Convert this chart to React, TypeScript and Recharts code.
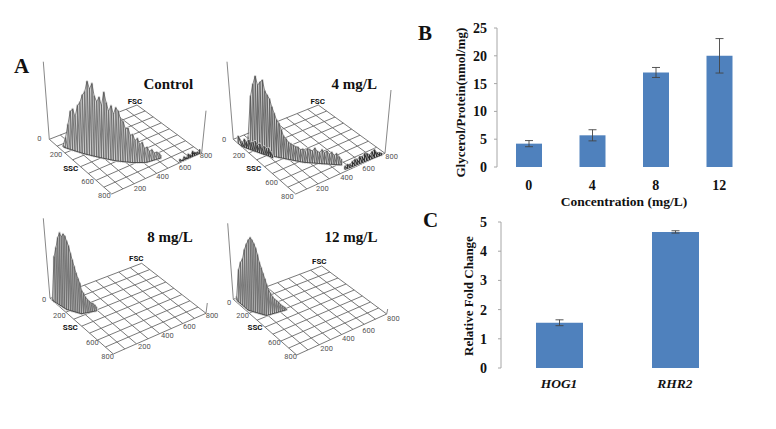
import { Bar, BarChart, ComposedChart, ErrorBar, Line, ReferenceDot, XAxis, YAxis } from "recharts";

const SERIF = "'Liberation Serif', serif";
const SANS = "Roboto, sans-serif";
const BAR_BLUE = "#4f81bd";
const AXIS_GREY = "#a6a6a6";

// panel B
const concentrations = ["0", "4", "8", "12"];
const glycerol = [4.2, 5.7, 17, 20];
const glycerolErr = [0.55, 1, 0.9, 3.1];

// panel C
const genes = ["HOG1", "RHR2"];
const foldChange = [1.55, 4.66];
const foldChangeErr = [0.1, 0.04];

// panel A, grid divisions of both scatter axes
const gridTicks = [0, 100, 200, 300, 400, 500, 600, 700, 800];

// Control
const controlSsc = [133, 150, 168, 185, 203, 221, 238, 256, 273, 290, 306, 322, 338, 354, 370, 385, 401, 416, 431, 446, 462, 477, 492, 506, 519, 532, 545, 558, 571, 584, 594, 605, 615, 626, 636, 645, 648, 652, 655, 659, 662, 665];
const controlFsc = [32, 41, 50, 59, 68, 77, 87, 96, 105, 115, 125, 136, 146, 156, 167, 177, 188, 198, 209, 220, 231, 241, 252, 264, 277, 289, 301, 314, 326, 338, 352, 366, 380, 394, 408, 424, 443, 462, 481, 500, 519, 532];
const controlCount = [2, 10, 24, 38, 41, 34, 46, 50, 58, 62, 73, 66, 72, 60, 55, 60, 52, 66, 56, 48, 54, 46, 53, 50, 42, 40, 33, 34, 27, 28, 22, 24, 18, 20, 14, 15, 10, 11, 7, 7, 5, 3];
const controlEdgeSsc = [788, 790, 791, 792, 793, 794, 795, 796, 797, 798];
const controlEdgeFsc = [614, 632, 650, 668, 686, 704, 722, 740, 760, 784];
const controlEdgeCount = [2, 0, 3, 1, 4, 2, 5, 3, 2, 4];

// 4 mg/L
const mg4Ssc = [130, 150, 169, 189, 209, 228, 248, 268, 287, 307, 325, 340, 355, 370, 385, 400, 415, 430, 445, 460, 475, 490, 505, 520, 533, 545, 558, 570, 582, 595, 607, 620, 632, 644, 657, 669, 681, 694, 706, 719];
const mg4Fsc = [43, 51, 59, 66, 74, 82, 90, 98, 105, 113, 121, 132, 143, 154, 165, 176, 187, 198, 209, 220, 231, 242, 253, 264, 276, 289, 302, 315, 328, 340, 353, 366, 379, 392, 405, 418, 431, 443, 456, 469];
const mg4Count = [9, 51, 64, 73, 65, 69, 72, 62, 59, 56, 49, 43, 37, 34, 28, 22, 20, 17, 16, 15, 14, 14, 12, 13, 11, 14, 13, 12, 15, 12, 11, 14, 11, 13, 10, 12, 9, 11, 8, 6];
const mg4LowSsc = [60, 108, 125, 142, 159, 176, 193, 210, 227, 244, 261, 278, 295, 312, 330, 347];
const mg4LowFsc = [2, 4, 12, 20, 28, 36, 44, 52, 60, 68, 76, 84, 92, 100, 106, 113];
const mg4LowCount = [7, 4, 8, 6, 9, 7, 8, 10, 7, 9, 6, 8, 7, 8, 5, 3];
const mg4EdgeSsc = [779, 781, 783, 785, 786, 787, 788, 790, 791, 792, 794, 795, 796, 798, 800, 802];
const mg4EdgeFsc = [456, 477, 498, 519, 540, 561, 582, 603, 624, 645, 666, 687, 708, 729, 750, 769];
const mg4EdgeCount = [3, 4, 3, 5, 6, 5, 7, 6, 8, 7, 5, 7, 8, 4, 3, 2];

// 8 mg/L
const mg8Ssc = [30, 48, 66, 84, 102, 120, 138, 156, 175, 188, 201, 214, 226, 239, 252, 265, 277, 281, 285, 289, 293, 297, 300, 304, 308];
const mg8Fsc = [0, 3, 6, 9, 12, 15, 18, 21, 24, 31, 39, 46, 54, 61, 69, 76, 84, 98, 111, 125, 138, 152, 165, 179, 192];
const mg8Count = [2, 45, 55, 66, 72, 69, 73, 72, 68, 64, 57, 51, 45, 39, 34, 30, 23, 20, 16, 13, 11, 9, 8, 6, 4];

// 12 mg/L
const mg12Ssc = [21, 45, 69, 93, 117, 141, 166, 179, 191, 204, 217, 229, 242, 254, 267, 280, 292, 294, 297, 299, 301, 304, 306, 308, 311, 313, 315];
const mg12Fsc = [15, 15, 15, 16, 16, 16, 16, 24, 31, 39, 46, 54, 61, 69, 76, 84, 91, 107, 123, 140, 156, 172, 188, 204, 220, 237, 253];
const mg12Count = [3, 32, 41, 46, 57, 64, 70, 73, 71, 68, 64, 58, 51, 46, 41, 36, 31, 25, 21, 17, 14, 12, 10, 7, 5, 3, 1];

const panels = [
  {
    name: "Control",
    frame: { left: 0, top: 45, width: 222, height: 160 },
    corners: { origin: [49.3, 139.3], ssc: [111.7, 194], fsc: [201.7, 152.7], far: [137, 105] },
    axisTips: [[43.3, 61.7], [206, 110.7]],
    surfaces: [
      { ssc: controlSsc, fsc: controlFsc, count: controlCount, stroke: "#666", width: 0.8 },
      { ssc: controlEdgeSsc, fsc: controlEdgeFsc, count: controlEdgeCount, stroke: "#222", width: 1 },
    ],
    labels: {
      zero: [39.3, 138.7], s200: [56, 154.3], ssc: [70.7, 167.7], s600: [87.7, 181.3], s800: [104.3, 195.3],
      f200: [140, 188.3], f400: [162.7, 176.7], f600: [185, 167.3], f800: [206, 155.3], fsc: [135, 100.7], title: [168.3, 83.3],
    },
  },
  {
    name: "4 mg/L",
    frame: { left: 205, top: 45, width: 215, height: 160 },
    corners: { origin: [233.3, 139.3], ssc: [295.7, 194], fsc: [385, 153.3], far: [318.3, 105] },
    axisTips: [[227, 61.7], [391, 90]],
    surfaces: [
      { ssc: mg4Ssc, fsc: mg4Fsc, count: mg4Count, stroke: "#555", width: 0.8 },
      { ssc: mg4LowSsc, fsc: mg4LowFsc, count: mg4LowCount, stroke: "#333", width: 0.9 },
      { ssc: mg4EdgeSsc, fsc: mg4EdgeFsc, count: mg4EdgeCount, stroke: "#222", width: 1 },
    ],
    labels: {
      zero: [224, 139], s200: [239, 155.3], ssc: [253.7, 167.7], s600: [271.7, 182], s800: [287.3, 196.7],
      f200: [322.3, 188.7], f400: [346.7, 177.7], f600: [368.7, 168.7], f800: [391.7, 156.3], fsc: [317.7, 100.7], title: [354.3, 84],
    },
  },
  {
    name: "8 mg/L",
    frame: { left: 0, top: 205, width: 222, height: 165 },
    corners: { origin: [50, 298.3], ssc: [113.3, 354], fsc: [206, 313.3], far: [141.7, 263.3] },
    axisTips: [[43.3, 218.3], [207.3, 303]],
    surfaces: [{ ssc: mg8Ssc, fsc: mg8Fsc, count: mg8Count, stroke: "#666", width: 0.8 }],
    labels: {
      zero: [44, 299.3], s200: [59.3, 315.3], ssc: [70.3, 326.7], s600: [92.3, 342.3], s800: [107.7, 356.7],
      f200: [144.3, 346.3], f400: [167.3, 335.3], f600: [189.3, 326], f800: [212, 315.3], fsc: [136.3, 258], title: [170, 236.7],
    },
  },
  {
    name: "12 mg/L",
    frame: { left: 205, top: 205, width: 215, height: 165 },
    corners: { origin: [233.3, 299.3], ssc: [296.7, 355], fsc: [386.7, 314], far: [321.7, 266] },
    axisTips: [[227.7, 223.3], [387.7, 309]],
    surfaces: [{ ssc: mg12Ssc, fsc: mg12Fsc, count: mg12Count, stroke: "#666", width: 0.8 }],
    labels: {
      zero: [229, 302], s200: [242.7, 315.3], ssc: [255, 327.3], s600: [274.3, 342], s800: [290.7, 356],
      f200: [326.7, 348.3], f400: [348.3, 338], f600: [368.7, 330], f800: [393.3, 318], fsc: [319.3, 260.7], title: [351, 236.7],
    },
  },
];

type Corners = { origin: number[]; ssc: number[]; fsc: number[]; far: number[] };

// scatter plane -> picture position (the plots are tilted, so bilinear between the 4 corners)
function project(c: Corners, ssc: number, fsc: number, count = 0) {
  const u = ssc / 800;
  const v = fsc / 800;
  const x = c.origin[0] * (1 - u) * (1 - v) + c.ssc[0] * u * (1 - v) + c.fsc[0] * u * v + c.far[0] * (1 - u) * v;
  const y = c.origin[1] * (1 - u) * (1 - v) + c.ssc[1] * u * (1 - v) + c.fsc[1] * u * v + c.far[1] * (1 - u) * v;
  return { x, y: y - count };
}

const tickText = { fill: "#555", fontSize: 7.5, fontFamily: SANS };
const nameText = { fill: "#111", fontSize: 8, fontFamily: SANS, fontWeight: 700 };
const titleText = { fill: "#111", fontSize: 15, fontFamily: SERIF, fontWeight: 700 };

function SurfacePlot({ panel }: { panel: (typeof panels)[number] }) {
  const { frame, corners, labels } = panel;
  const gridLines = [
    ...gridTicks.map((t) => [project(corners, t, 0), project(corners, t, 800)]),
    ...gridTicks.map((t) => [project(corners, 0, t), project(corners, 800, t)]),
  ];
  const axisLines = [
    [project(corners, 0, 0), { x: panel.axisTips[0][0], y: panel.axisTips[0][1] }],
    [project(corners, 800, 800), { x: panel.axisTips[1][0], y: panel.axisTips[1][1] }],
  ];
  const marks = [
    { at: labels.zero, value: "0", style: tickText },
    { at: labels.s200, value: "200", style: tickText },
    { at: labels.ssc, value: "SSC", style: nameText },
    { at: labels.s600, value: "600", style: tickText },
    { at: labels.s800, value: "800", style: tickText },
    { at: labels.f200, value: "200", style: tickText },
    { at: labels.f400, value: "400", style: tickText },
    { at: labels.f600, value: "600", style: tickText },
    { at: labels.f800, value: "800", style: tickText },
    { at: labels.fsc, value: "FSC", style: nameText },
    { at: labels.title, value: panel.name, style: titleText },
  ];

  return (
    <div style={{ position: "absolute", left: frame.left, top: frame.top }}>
      <ComposedChart width={frame.width} height={frame.height} margin={{ top: 0, right: 0, bottom: 0, left: 0 }}>
        <XAxis hide type="number" dataKey="x" domain={[frame.left, frame.left + frame.width]} />
        <YAxis hide reversed type="number" domain={[frame.top, frame.top + frame.height]} width={0} />
        {gridLines.map((pts, i) => (
          <Line key={`grid${i}`} data={pts} dataKey="y" stroke="#6a6a6a" strokeWidth={0.9} dot={false} isAnimationActive={false} />
        ))}
        {axisLines.map((pts, i) => (
          <Line key={`axis${i}`} data={pts} dataKey="y" stroke="#888" strokeWidth={1} dot={false} isAnimationActive={false} />
        ))}
        {panel.surfaces.map((s, i) => {
          const base = s.ssc.map((v, k) => project(corners, v, s.fsc[k]));
          const top = s.ssc.map((v, k) => project(corners, v, s.fsc[k], s.count[k]));
          const hatch = base.flatMap((b, k) => [b, top[k]]);
          return [
            <Line key={`under${i}`} data={hatch} dataKey="y" stroke="#cfcfcf" strokeWidth={2.6} strokeLinejoin="round" dot={false} isAnimationActive={false} />,
            <Line key={`hatch${i}`} data={hatch} dataKey="y" stroke={s.stroke} strokeWidth={s.width} dot={false} isAnimationActive={false} />,
            <Line key={`top${i}`} data={top} dataKey="y" stroke="#555" strokeWidth={0.7} dot={false} isAnimationActive={false} />,
            <Line key={`base${i}`} data={base} dataKey="y" stroke="#333" strokeWidth={0.8} dot={false} isAnimationActive={false} />,
          ];
        })}
        {marks.map((m, i) => (
          <ReferenceDot
            key={i}
            x={m.at[0]}
            y={m.at[1]}
            r={0}
            fill="none"
            stroke="none"
            ifOverflow="visible"
            label={{ value: m.value, position: "center", ...m.style }}
          />
        ))}
      </ComposedChart>
    </div>
  );
}

const valueTick = { fill: "#111", fontSize: 14, fontFamily: SERIF, fontWeight: 700 };
const axisLine = { stroke: AXIS_GREY };

function GlycerolChart() {
  const data = concentrations.map((c, i) => ({ c, value: glycerol[i], err: glycerolErr[i] }));
  return (
    <div style={{ position: "absolute", left: 410, top: 10 }}>
      <BarChart width={345} height={200} data={data} barSize={26} margin={{ top: 18, right: 4, bottom: 0, left: 0 }}>
        <XAxis xAxisId="edges" type="number" orientation="bottom" domain={[0, 4]} ticks={[0, 1, 2, 3, 4]} height={0} tick={false} tickLine={axisLine} tickSize={3} axisLine={axisLine} />
        <XAxis
          dataKey="c"
          height={43}
          axisLine={false}
          tickLine={false}
          interval={0}
          tick={valueTick}
          tickMargin={7}
          label={{ value: "Concentration (mg/L)", position: "insideBottom", offset: 4, fill: "#111", fontSize: 13.5, fontFamily: SERIF, fontWeight: 700 }}
        />
        <YAxis
          width={87}
          domain={[0, 25]}
          ticks={[0, 5, 10, 15, 20, 25]}
          tick={valueTick}
          tickLine={axisLine}
          tickSize={3}
          tickMargin={7}
          axisLine={axisLine}
          label={{ value: "Glycerol/Protein(nmol/mg)", angle: -90, position: "insideLeft", dx: 45, dy: 80, fill: "#111", fontSize: 13, fontFamily: SERIF, fontWeight: 700 }}
        />
        <Bar dataKey="value" fill={BAR_BLUE} isAnimationActive={false}>
          <ErrorBar dataKey="err" width={4} stroke="#444" strokeWidth={0.9} isAnimationActive={false} />
        </Bar>
      </BarChart>
    </div>
  );
}

function FoldChart() {
  const data = genes.map((g, i) => ({ g, value: foldChange[i], err: foldChangeErr[i] }));
  return (
    <div style={{ position: "absolute", left: 410, top: 205 }}>
      <BarChart width={330} height={193} data={data} barSize={47} margin={{ top: 17, right: 7, bottom: 0, left: 0 }}>
        <XAxis xAxisId="edges" type="number" orientation="bottom" domain={[0, 2]} ticks={[0, 1, 2]} height={0} tick={false} tickLine={axisLine} tickSize={3} axisLine={axisLine} />
        <XAxis
          dataKey="g"
          height={30}
          axisLine={false}
          tickLine={false}
          interval={0}
          tickMargin={4}
          tick={{ ...valueTick, fontStyle: "italic", fontSize: 13.5 }}
        />
        <YAxis
          width={91}
          domain={[0, 5]}
          ticks={[0, 1, 2, 3, 4, 5]}
          tick={valueTick}
          tickLine={axisLine}
          tickSize={3}
          tickMargin={11}
          axisLine={axisLine}
          label={{ value: "Relative Fold Change", angle: -90, position: "insideLeft", dx: 53, dy: 61, fill: "#111", fontSize: 13, fontFamily: SERIF, fontWeight: 700 }}
        />
        <Bar dataKey="value" fill={BAR_BLUE} isAnimationActive={false}>
          <ErrorBar dataKey="err" width={4} stroke="#444" strokeWidth={0.9} isAnimationActive={false} />
        </Bar>
      </BarChart>
    </div>
  );
}

function PanelLetter({ text, left, top }: { text: string; left: number; top: number }) {
  return (
    <div style={{ position: "absolute", left, top, font: `700 21px ${SERIF}`, color: "#111", lineHeight: "24px" }}>
      {text}
    </div>
  );
}

export default function App() {
  return (
    <div style={{ position: "absolute", left: 0, top: 0, width: 776, height: 429, overflow: "hidden", background: "#fff" }}>
      {panels.map((p) => (
        <SurfacePlot key={p.name} panel={p} />
      ))}
      <GlycerolChart />
      <FoldChart />
      <PanelLetter text="A" left={14} top={54} />
      <PanelLetter text="B" left={418} top={21} />
      <PanelLetter text="C" left={423} top={208} />
    </div>
  );
}
